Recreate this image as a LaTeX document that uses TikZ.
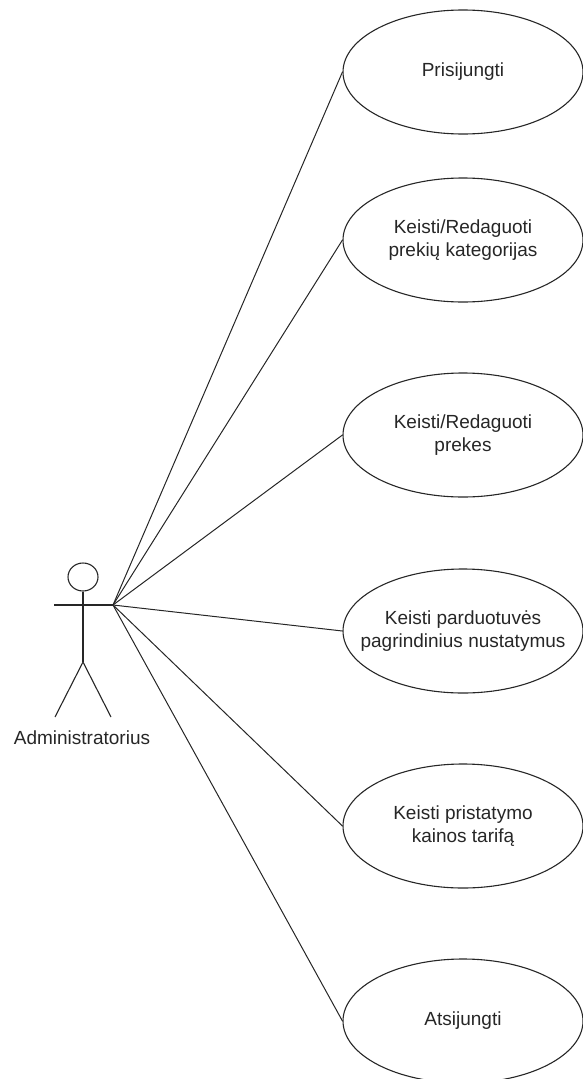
\documentclass[tikz,border=0pt]{standalone}
\usepackage{fontspec}
\setmainfont{Liberation Sans}
\usetikzlibrary{shapes.geometric}
\begin{document}
\begin{tikzpicture}[x=1pt,y=-1pt,
  caption/.style={align=center, font=\fontsize{19}{23}\selectfont, text=black!85},
  usecase/.style={draw=black!85, ellipse, line width=1.1pt, inner sep=0pt,
    minimum width=240pt, minimum height=124pt,
    label={[caption]center:#1}},
  stick/.style={line width=1.1pt, draw=black!85},
  assoc/.style={line width=1pt, draw=black!85}]
  \useasboundingbox (0,0) rectangle (583,1079);

  % actor
  \node[draw=black!85, line width=1.1pt, ellipse, inner sep=0pt,
        minimum width=30pt, minimum height=28pt] (head) at (83,577) {};
  \coordinate (hip) at (83,662);
  \coordinate (lhand) at (54,605);
  \coordinate (hand) at (113,605);
  \coordinate (lfoot) at (55,717);
  \coordinate (rfoot) at (111,717);
  \draw[stick] (head.south) -- (hip);
  \draw[stick] (lhand) -- (hand);
  \draw[stick] (lfoot) -- (hip) -- (rfoot);
  \node[caption] (actor) at (82,738) {Administratorius};

  % use cases
  \node[usecase={Prisijungti}] (u1) at (463,72) {};
  \node[usecase={Keisti/Redaguoti\\prekių kategorijas}] (u2) at (463,240) {};
  \node[usecase={Keisti/Redaguoti\\prekes}] (u3) at (463,435) {};
  \node[usecase={Keisti parduotuvės\\pagrindinius nustatymus}] (u4) at (463,631) {};
  \node[usecase={Keisti pristatymo\\kainos tarifą}] (u5) at (463,826) {};
  \node[usecase={Atsijungti}] (u6) at (463,1021) {};

  % associations
  \foreach \u in {u1,u2,u3,u4,u5,u6}
    \draw[assoc] (hand) -- (\u.west);
\end{tikzpicture}
\end{document}
